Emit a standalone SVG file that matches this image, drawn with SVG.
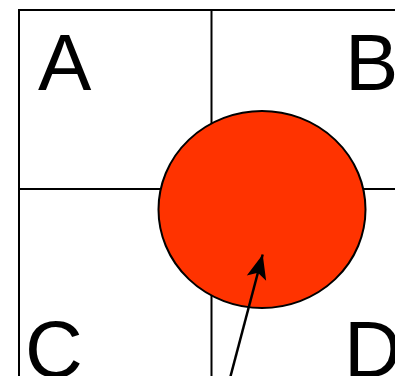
<svg xmlns="http://www.w3.org/2000/svg" width="395" height="376" viewBox="0 0 395 376">
<style>
.grid{stroke:#000;stroke-width:2;fill:none}
.lbl{font-family:"Liberation Sans",Arial,sans-serif;font-size:80px;fill:#000}
</style>
<defs>
<marker id="ah" markerUnits="userSpaceOnUse" markerWidth="30" markerHeight="30" viewBox="-25 -12 27 24" refX="0" refY="0" orient="auto">
<path d="M0,0 L-22,-9 L-17,0 L-22,9 Z" fill="#000"/>
</marker>
</defs>
<g id="grid">
<line class="grid" x1="19" y1="10" x2="400" y2="10"/>
<line class="grid" x1="19" y1="9" x2="19" y2="380"/>
<line class="grid" x1="211.5" y1="10" x2="211.5" y2="380"/>
<line class="grid" x1="19" y1="189" x2="400" y2="189"/>
</g>
<g id="labels">
<text class="lbl" x="38" y="90">A</text>
<text class="lbl" x="345" y="90">B</text>
<text class="lbl" x="25" y="377">C</text>
<text class="lbl" x="344" y="377">D</text>
</g>
<g id="circle">
<ellipse cx="262" cy="209.5" rx="103.5" ry="98.5" fill="#ff3300" stroke="#000" stroke-width="2"/>
</g>
<g id="connectors">
<line x1="229" y1="382" x2="262.7" y2="254.5" stroke="#000" stroke-width="2.5" marker-end="url(#ah)"/>
</g>
</svg>
